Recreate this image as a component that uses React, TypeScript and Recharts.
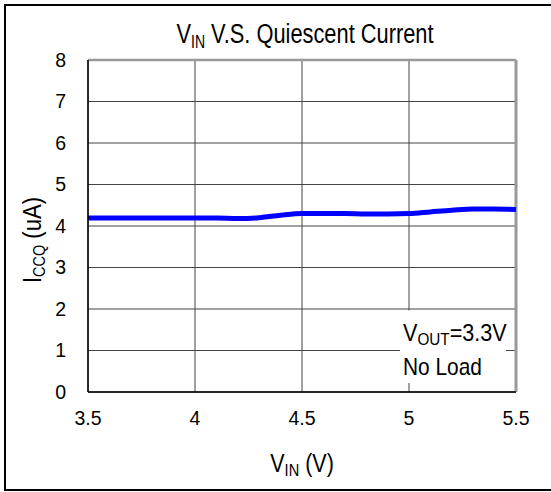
import { LineChart, Line, XAxis, YAxis, CartesianGrid, ReferenceLine } from 'recharts';

// input voltage (V) and quiescent current (uA)
const vin = [3.5, 3.6, 3.7, 3.8, 3.9, 4.0, 4.1, 4.2, 4.3, 4.4, 4.5, 4.6, 4.7, 4.8, 4.9, 5.0, 5.1, 5.2, 5.3, 5.4, 5.5];
const iccq = [4.19, 4.19, 4.19, 4.19, 4.19, 4.19, 4.19, 4.18, 4.2, 4.26, 4.3, 4.3, 4.3, 4.29, 4.29, 4.3, 4.34, 4.38, 4.41, 4.41, 4.4];

const xTicks = [3.5, 4, 4.5, 5, 5.5];
const yTicks = [0, 1, 2, 3, 4, 5, 6, 7, 8];

const FONT = '"Liberation Sans", Arial, sans-serif';

export default function App() {
    const chartData = vin.map((v, i) => ({ vin: v, iccq: iccq[i] }));

    return (
        <div style={{ position: 'fixed', top: 0, left: 0, width: 551, height: 492, background: '#fff' }}>
            <LineChart
                width={551}
                height={492}
                data={chartData}
                margin={{ top: 60, right: 35, left: 28, bottom: 60 }}
            >
                <CartesianGrid stroke="#444" strokeWidth={1} />
                <XAxis
                    dataKey="vin"
                    type="number"
                    domain={[3.5, 5.5]}
                    ticks={xTicks}
                    height={40}
                    tickLine={false}
                    tickSize={0}
                    tickMargin={19}
                    axisLine={{ stroke: '#000', strokeWidth: 1.5 }}
                    tick={{ fontSize: 19.5, fill: '#000', fontFamily: FONT }}
                />
                <YAxis
                    type="number"
                    domain={[0, 8]}
                    ticks={yTicks}
                    width={60}
                    tickLine={false}
                    tickSize={0}
                    tickMargin={22}
                    axisLine={{ stroke: '#000', strokeWidth: 1.5 }}
                    tick={{ fontSize: 19.5, fill: '#000', fontFamily: FONT }}
                />
                {/* grey top / right frame */}
                <ReferenceLine y={8} stroke="#999" strokeWidth={2.5} />
                <ReferenceLine x={5.5} stroke="#999" strokeWidth={3} />
                <Line
                    type="monotone"
                    dataKey="iccq"
                    stroke="#0000ff"
                    strokeWidth={5}
                    dot={false}
                    isAnimationActive={false}
                />
            </LineChart>

            <svg
                width={551}
                height={492}
                style={{ position: 'absolute', top: 0, left: 0, pointerEvents: 'none' }}
                fontFamily={FONT}
            >
                <rect x={5} y={5} width={600} height={485} fill="none" stroke="#000" strokeWidth={2} />

                {/* title */}
                <text transform="translate(305,43) scale(0.78,1)" textAnchor="middle" fontSize={28} fill="#000">
                    V<tspan fontSize={18} dy={5}>IN</tspan>
                    <tspan dy={-5}> V.S. Quiescent Current</tspan>
                </text>

                {/* x label */}
                <text transform="translate(302,472) scale(0.86,1)" textAnchor="middle" fontSize={25} fill="#000">
                    V<tspan fontSize={17} dy={4}>IN</tspan>
                    <tspan dy={-4}> (V)</tspan>
                </text>

                {/* y label */}
                <text transform="translate(41,240) rotate(-90) scale(0.85,1)" textAnchor="middle" fontSize={26} fill="#000">
                    I<tspan fontSize={17} dy={4}>CCQ</tspan>
                    <tspan dy={-4}> (uA)</tspan>
                </text>

                {/* condition note */}
                <rect x={400} y={310.5} width={106} height={72.5} fill="#fff" />
                <text transform="translate(403,341) scale(0.9,1)" fontSize={24} fill="#000">
                    V<tspan fontSize={17} dy={4}>OUT</tspan>
                    <tspan dy={-4}>=3.3V</tspan>
                </text>
                <text transform="translate(403,375) scale(0.87,1)" fontSize={24} fill="#000">
                    No Load
                </text>
            </svg>
        </div>
    );
}
